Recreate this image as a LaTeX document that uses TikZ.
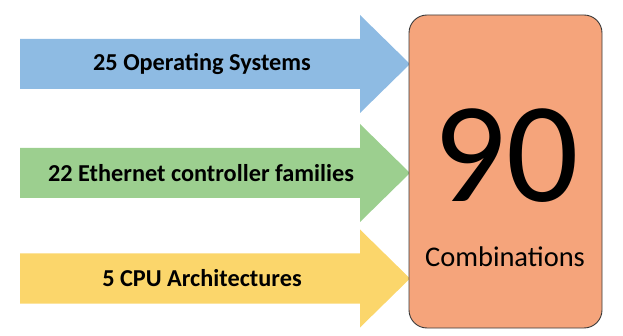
\documentclass[tikz,border=0pt]{standalone}
\usepackage{fontspec}
\setmainfont{Carlito}
\definecolor{arrblue}{HTML}{8EBBE3}
\definecolor{arrgreen}{HTML}{9CCF8F}
\definecolor{arryellow}{HTML}{FBD66B}
\definecolor{boxfill}{HTML}{F5A47B}
\definecolor{boxline}{HTML}{3A3A3A}
\begin{document}
\begin{tikzpicture}[x=1pt,y=-1pt,
  arrlabel/.style={font=\bfseries\fontsize{24.3}{28}\selectfont, text=black, inner sep=0pt},
  bigbox/.style={draw=boxline, line width=0.9pt, fill=boxfill, rounded corners=18pt}]
\useasboundingbox (0,0) rectangle (623,336);
\newcommand{\fatarrow}[2]{%
  \fill[#2] (20,#1-25) -- (360,#1-25) -- (360,#1-49) -- (410,#1) -- (360,#1+49) -- (360,#1+25) -- (20,#1+25) -- cycle;}
\fatarrow{64}{arrblue}
\fatarrow{173}{arrgreen}
\fatarrow{278.5}{arryellow}
\node[arrlabel] (os) at (202,64) {25 Operating Systems};
\node[arrlabel] (eth) at (201,173) {22 Ethernet controller families};
\node[arrlabel] (cpu) at (202,278.5) {5 CPU Architectures};
\draw[bigbox] (409,15) rectangle (602,328);
\node[inner sep=0pt, font=\fontsize{143}{145}\selectfont] (num) at (506,156) {90};
\node[inner sep=0pt, font=\fontsize{28.5}{31}\selectfont] (comb) at (505,257) {Combinations};
\end{tikzpicture}
\end{document}
